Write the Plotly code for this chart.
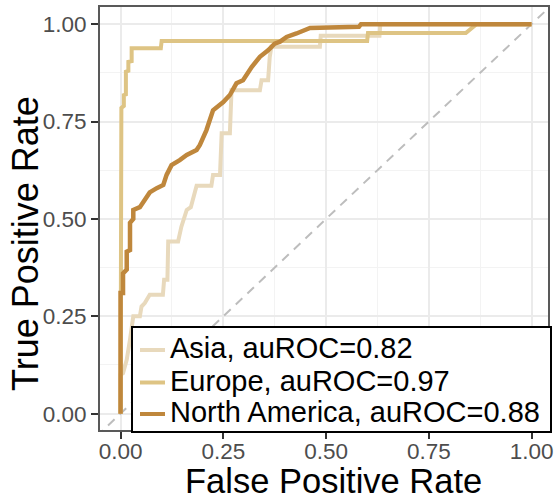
import plotly.graph_objects as go

# ---- data ----
asia_fpr = [0, 0.0, 0.006, 0.015, 0.023, 0.031, 0.047, 0.051, 0.059, 0.071, 0.103, 0.106, 0.114, 0.116,
            0.140, 0.148, 0.161, 0.171, 0.185, 0.221, 0.225, 0.242, 0.246, 0.266, 0.270, 0.339, 0.343,
            0.359, 0.363, 0.367, 0.485, 0.487, 0.630, 0.632, 1.0]
asia_tpr = [0, 0.10, 0.104, 0.138, 0.19, 0.25, 0.25, 0.275, 0.284, 0.305, 0.305, 0.344, 0.344, 0.442,
            0.442, 0.480, 0.523, 0.530, 0.585, 0.585, 0.613, 0.613, 0.72, 0.72, 0.83, 0.83, 0.856,
            0.856, 0.916, 0.942, 0.942, 0.97, 0.97, 1.0, 1.0]

europe_fpr = [0, 0.002, 0.008, 0.008, 0.013, 0.013, 0.019, 0.019, 0.027, 0.027, 0.098, 0.100,
              0.600, 0.602, 0.840, 0.866, 1.0]
europe_tpr = [0, 0.785, 0.79, 0.818, 0.82, 0.878, 0.88, 0.903, 0.905, 0.938, 0.938, 0.957,
              0.957, 0.977, 0.977, 1.0, 1.0]

na_fpr = [0, 0.0, 0.006, 0.006, 0.015, 0.015, 0.023, 0.023, 0.031, 0.031, 0.047, 0.059, 0.071,
          0.088, 0.104, 0.112, 0.124, 0.144, 0.161, 0.185, 0.193, 0.209, 0.225, 0.250, 0.266,
          0.282, 0.298, 0.319, 0.339, 0.359, 0.375, 0.388, 0.404, 0.428, 0.461, 0.580, 0.585, 1.0]
na_tpr = [0, 0.31, 0.31, 0.36, 0.37, 0.416, 0.42, 0.49, 0.50, 0.523, 0.530, 0.547, 0.568,
          0.579, 0.587, 0.613, 0.638, 0.651, 0.664, 0.677, 0.690, 0.728, 0.779, 0.800, 0.818,
          0.848, 0.856, 0.890, 0.916, 0.933, 0.950, 0.955, 0.967, 0.976, 0.990, 0.993, 1.0, 1.0]

names = ["Asia, auROC=0.82", "Europe, auROC=0.97", "North America, auROC=0.88"]
colors = ["#E8D9BC", "#DEC484", "#BF873C"]
widths = [4, 4, 4.5]
diag = [-0.2, 1.2]
tick_vals = [0, 0.25, 0.5, 0.75, 1.0]
tick_text = ["0.00", "0.25", "0.50", "0.75", "1.00"]
x_title = "False Positive Rate"
y_title = "True Positive Rate"

FONT = "Liberation Sans, Arial, Helvetica, sans-serif"

fig = go.Figure()
fig.add_trace(go.Scatter(x=diag, y=diag, mode="lines", showlegend=False, hoverinfo="skip",
                         line=dict(color="#BDBDBD", width=2, dash="9px,7px")))
for fx, ty, nm, col, w in zip([asia_fpr, europe_fpr, na_fpr], [asia_tpr, europe_tpr, na_tpr],
                              names, colors, widths):
    fig.add_trace(go.Scatter(x=fx, y=ty, mode="lines", name=nm,
                             line=dict(color=col, width=w)))

axis_common = dict(
    tickvals=tick_vals, ticktext=tick_text,
    showgrid=True, gridcolor="#EBEBEB", gridwidth=1.5,
    minor=dict(dtick=0.125, tick0=0, showgrid=True, gridcolor="#F3F3F3", gridwidth=1),
    zeroline=False, automargin=False,
    showline=True, mirror=True, linecolor="#595959", linewidth=2,
    ticks="outside", ticklen=7, tickwidth=2, tickcolor="#333333",
    tickfont=dict(family=FONT, size=22.5, color="#4D4D4D"),
)

# ---- plot-area pixel geometry ----
PL, PR, PT, PB = 100, 548, 7, 430
W, H = PR - PL, PB - PT
def px_x(p): return (p - PL) / W
def px_y(p): return (PB - p) / H

# ---- ggplot-style inset legend ----
shapes = [dict(type="rect", xref="paper", yref="paper",
               x0=px_x(132), x1=px_x(551), y0=px_y(432), y1=px_y(327),
               line=dict(color="black", width=2), fillcolor="white", layer="above")]
annotations = []
row_y = [348, 380.5, 412]
for nm, col, ry in zip(names, colors, row_y):
    shapes.append(dict(type="line", xref="paper", yref="paper",
                       x0=px_x(140), x1=px_x(165), y0=px_y(ry + 2), y1=px_y(ry + 2),
                       line=dict(color=col, width=4), layer="above"))
    annotations.append(dict(xref="paper", yref="paper", x=px_x(168), y=px_y(ry),
                            xanchor="left", yanchor="middle", showarrow=False, text=nm,
                            font=dict(family=FONT, size=29, color="black")))

# ---- axis titles ----
annotations.append(dict(xref="paper", yref="paper", x=px_x(333), y=px_y(481.5),
                        xanchor="center", yanchor="middle", showarrow=False, text=x_title,
                        font=dict(family=FONT, size=34.5, color="black")))
annotations.append(dict(xref="paper", yref="paper", x=px_x(25), y=px_y(244),
                        xanchor="center", yanchor="middle", showarrow=False, text=y_title,
                        textangle=-90, font=dict(family=FONT, size=36, color="black")))

fig.update_layout(
    width=557, height=500,
    margin=dict(l=PL, r=557 - PR, t=PT, b=500 - PB),
    paper_bgcolor="white", plot_bgcolor="white",
    font=dict(family=FONT),
    showlegend=False,
    shapes=shapes, annotations=annotations,
    xaxis=dict(range=[-0.05, 1.04], ticklabelstandoff=-7, **axis_common),
    yaxis=dict(range=[-0.042, 1.044], **axis_common),
)

fig.write_html("out.html")
